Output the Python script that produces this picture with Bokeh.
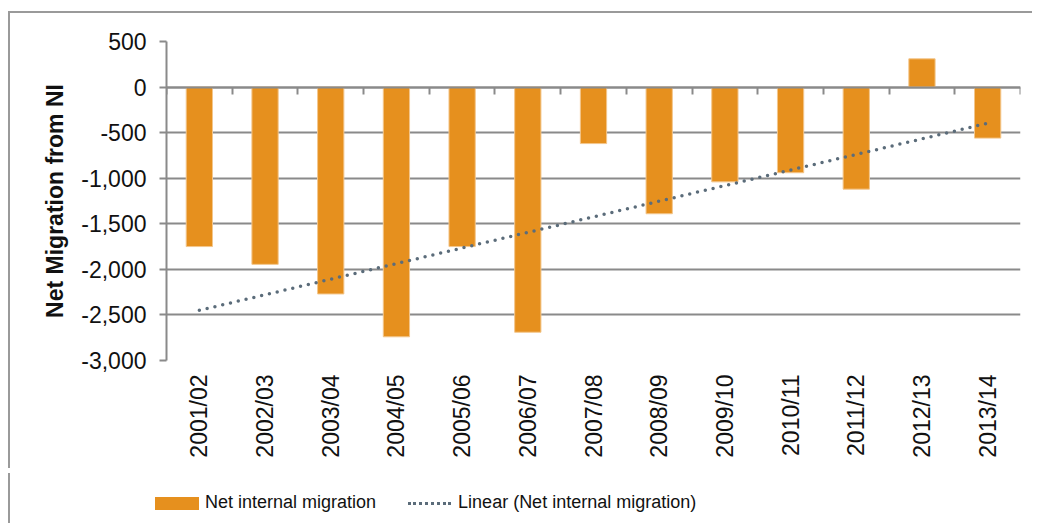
import math
import numpy as np
from bokeh.plotting import figure
from bokeh.layouts import column
from bokeh.models import (Range1d, FixedTicker, NumeralTickFormatter, LinearAxis, Div)
from bokeh.embed import file_html
from bokeh.resources import INLINE

# ---- data ----
categories = ["2001/02", "2002/03", "2003/04", "2004/05", "2005/06", "2006/07",
              "2007/08", "2008/09", "2009/10", "2010/11", "2011/12", "2012/13", "2013/14"]
net_internal_migration = [-1750, -1945, -2270, -2740, -1750, -2690,
                          -620, -1390, -1040, -940, -1120, 310, -560]
y_ticks = [500, 0, -500, -1000, -1500, -2000, -2500, -3000]
series_label = "Net internal migration"
trend_label = "Linear (Net internal migration)"

FONT = "Liberation Sans"
GRID = "#8a8a8a"
BAR = "#E6901E"
BAR_EDGE = "#F3C68C"
TREND = "#5B6C7A"
BORDER = "2px solid #9a9a9a"

xs = list(range(len(categories)))
coef = np.polyfit(xs, net_internal_migration, 1)
trend = np.polyval(coef, xs)

p = figure(width=1024, height=457,
           x_range=Range1d(-0.5, len(categories) - 0.5),
           y_range=Range1d(min(y_ticks), max(y_ticks)),
           output_backend="svg", toolbar_location=None,
           min_border_left=156, min_border_right=14,
           min_border_top=28, min_border_bottom=110)
p.outline_line_color = None
p.background_fill_color = "white"
p.border_fill_color = "white"
p.styles = {"border-left": BORDER, "border-top": BORDER,
            "margin-top": "11px", "margin-left": "8px"}

# y axis
ya = p.yaxis[0]
ya.ticker = FixedTicker(ticks=y_ticks)
ya.formatter = NumeralTickFormatter(format="0,0")
ya.axis_line_color = GRID
ya.axis_line_width = 2
ya.major_tick_line_color = GRID
ya.major_tick_line_width = 2
ya.major_tick_out = 7
ya.major_tick_in = 0
ya.minor_tick_line_color = None
ya.major_label_text_font = FONT
ya.major_label_text_font_size = "23px"
ya.major_label_text_color = "#111111"
ya.major_label_standoff = 13
ya.axis_label = "Net Migration from NI"
ya.axis_label_text_font = FONT
ya.axis_label_text_font_size = "23px"
ya.axis_label_text_font_style = "bold"
ya.axis_label_text_color = "#111111"
ya.axis_label_standoff = 10

p.ygrid.ticker = FixedTicker(ticks=y_ticks)
p.ygrid.grid_line_color = GRID
p.ygrid.grid_line_width = 2
p.xgrid.grid_line_color = None

# bottom category labels
xa = p.xaxis[0]
xa.ticker = FixedTicker(ticks=xs)
xa.major_label_overrides = {i: c for i, c in enumerate(categories)}
xa.major_label_orientation = math.pi / 2
xa.axis_line_color = None
xa.major_tick_line_color = None
xa.minor_tick_line_color = None
xa.major_tick_out = 0
xa.major_tick_in = 0
xa.major_label_standoff = 14
xa.major_label_text_font = FONT
xa.major_label_text_font_size = "23px"
xa.major_label_text_color = "#111111"

# category axis line at zero with boundary ticks
bounds = [i - 0.5 for i in range(len(categories) + 1)]
za = LinearAxis(fixed_location=0, ticker=FixedTicker(ticks=bounds),
                major_label_overrides={b: "" for b in bounds},
                major_label_text_font_size="0px",
                axis_line_color=GRID, axis_line_width=2,
                major_tick_line_color=GRID, major_tick_line_width=2,
                major_tick_in=7, major_tick_out=0,
                minor_tick_line_color=None)
p.add_layout(za, "above")

p.vbar(x=xs, top=net_internal_migration, bottom=0, width=0.4,
       fill_color=BAR, line_color=BAR_EDGE, line_width=1)
p.line(xs, trend, line_color=TREND, line_width=3.5, line_dash="0 8", line_cap="round")

# legend strip below the chart
legend_html = (
    f'<div style="display:flex;align-items:center;margin-top:19px;height:22px;'
    f'padding-left:145px;font-family:\'{FONT}\';font-size:18px;color:#111111;'
    f'white-space:nowrap;">'
    f'<span style="display:inline-block;width:44px;height:13px;background:{BAR};'
    f'margin-right:6px;"></span>'
    f'<span>{series_label}</span>'
    f'<span style="display:inline-block;width:43px;height:0;border-top:3px dotted {TREND};'
    f'margin-left:32px;margin-right:7px;"></span>'
    f'<span>{trend_label}</span>'
    f'</div>'
)
leg = Div(text=legend_html, width=1024, height=50,
          styles={"border-left": BORDER, "margin-left": "8px"})

layout = column(p, leg, spacing=0)
open("out.html", "w").write(file_html(layout, INLINE))
